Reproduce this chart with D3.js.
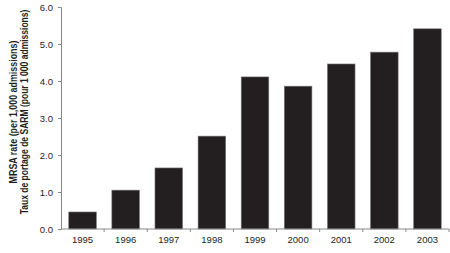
<!DOCTYPE html>
<meta charset="utf-8">
<style>
  body { margin: 0; background: #fff; }
  svg text { font-family: "Liberation Sans Narrow", "Arial Narrow", Arial, sans-serif; fill: #231f20; }
</style>
<script src="https://d3js.org/d3.v7.min.js"></script>
<div id="chart"></div>
<script>
// data
var years = ["1995", "1996", "1997", "1998", "1999", "2000", "2001", "2002", "2003"];
var rates = [0.46, 1.05, 1.65, 2.51, 4.11, 3.86, 4.46, 4.78, 5.41];
var yTicks = [0, 1, 2, 3, 4, 5, 6];
var titleLines = ["MRSA rate (per 1,000 admissions)", "Taux de portage de SARM (pour 1 000 admissions)"];

var W = 450, H = 253;
var margin = {top: 7, right: 1, bottom: 24, left: 61};
var width = W - margin.left - margin.right,
    height = H - margin.top - margin.bottom;

var svg = d3.select("#chart").append("svg")
    .attr("width", W)
    .attr("height", H);
var g = svg.append("g")
    .attr("transform", "translate(" + margin.left + "," + margin.top + ")");

var x = d3.scaleBand().domain(years).range([0, width]).paddingInner(0.36).paddingOuter(0.18);
var y = d3.scaleLinear().domain([0, 6]).range([height, 0]);

// bars
g.selectAll("rect.bar")
  .data(years)
  .enter().append("rect")
    .attr("class", "bar")
    .attr("x", function(d) { return x(d); })
    .attr("y", function(d, i) { return y(rates[i]); })
    .attr("width", x.bandwidth())
    .attr("height", function(d, i) { return height - y(rates[i]); })
    .attr("fill", "#231f20")
    .attr("stroke", "#777")
    .attr("stroke-width", 0.6);

// y axis
var yAxis = g.append("g")
    .call(d3.axisLeft(y).tickValues(yTicks).tickFormat(d3.format(".1f")).tickSize(3).tickPadding(5));
yAxis.selectAll("text").style("font-size", "9.5px");
yAxis.selectAll("path, line").attr("stroke", "#888");

// x axis: ticks at category boundaries
var xAxis = g.append("g").attr("transform", "translate(0," + height + ")");
xAxis.append("line")
    .attr("x1", 0).attr("x2", width)
    .attr("stroke", "#888");
var bounds = d3.range(1, years.length + 1).map(function(i) { return i * width / years.length; });
xAxis.selectAll("line.tk")
  .data(bounds)
  .enter().append("line")
    .attr("class", "tk")
    .attr("x1", function(d) { return d; }).attr("x2", function(d) { return d; })
    .attr("y1", 0).attr("y2", 3)
    .attr("stroke", "#888");
xAxis.selectAll("text")
  .data(years)
  .enter().append("text")
    .attr("x", function(d) { return x(d) + x.bandwidth() / 2; })
    .attr("y", 14)
    .attr("text-anchor", "middle")
    .style("font-size", "9.5px")
    .text(function(d) { return d; });

// axis title, two lines squeezed to the reference widths
var cy = margin.top + height / 2 - 6;
var targets = [143, 205];
titleLines.forEach(function(t, i) {
  var txt = svg.append("text")
      .attr("text-anchor", "middle")
      .style("font-size", "10px")
      .style("font-weight", "bold")
      .text(t);
  var k = Math.min(1, targets[i] / txt.node().getComputedTextLength());
  txt.attr("transform", "translate(" + (16.5 + i * 11) + "," + cy + ") rotate(-90) scale(" + k + ",1)");
});
</script>
